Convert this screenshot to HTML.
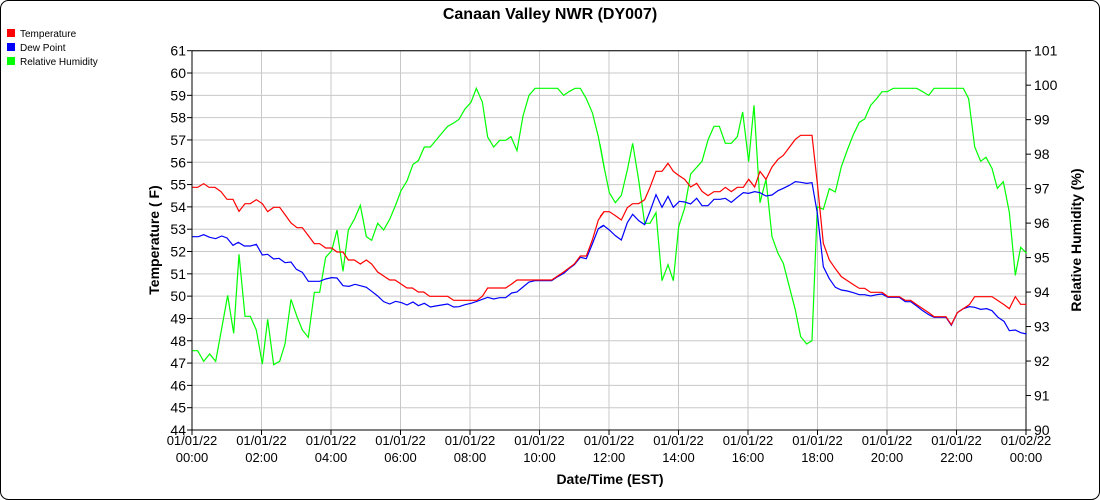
<!DOCTYPE html>
<html><head><meta charset="utf-8"><style>
body{margin:0;background:#fff;}
svg{display:block;font-family:"Liberation Sans",sans-serif;}
</style></head><body>
<svg width="1100" height="500" xmlns="http://www.w3.org/2000/svg">
<rect x="0.5" y="0.5" width="1099" height="499" rx="8" fill="#fff" stroke="#000"/>
<text x="550" y="19" text-anchor="middle" font-size="16" font-weight="bold">Canaan Valley NWR (DY007)</text>
<g font-size="10">
<rect x="7" y="29" width="8" height="8" fill="#f00"/><text x="20" y="37">Temperature</text>
<rect x="7" y="43" width="8" height="8" fill="#00f"/><text x="20" y="51">Dew Point</text>
<rect x="7" y="57" width="8" height="8" fill="#0f0"/><text x="20" y="65">Relative Humidity</text>
</g>
<g id="grid" stroke="#c8c8c8" stroke-width="1"></g>
<g id="lbl" font-size="14"></g>
<script>
var g=document.getElementById('grid'),l=document.getElementById('lbl'),ns='http://www.w3.org/2000/svg';
function el(p,t,a,txt){var e=document.createElementNS(ns,t);for(var k in a)e.setAttribute(k,a[k]);if(txt!=null)e.textContent=txt;p.appendChild(e);return e;}
var x0=192,x1=1026,yt=50.7,yb=430;
for(var v=44;v<=61;v++){var y=yt+(61-v)*(yb-yt)/17;el(g,'line',{x1:x0,x2:x1,y1:y,y2:y});el(g,'line',{x1:x0-5,x2:x0,y1:y,y2:y,stroke:'#000'});el(l,'text',{x:x0-6,y:y+5,'text-anchor':'end'},v);}
for(var r=90;r<=101;r++){var y=yb-(r-90)*(yb-yt)/11;el(g,'line',{x1:x1,x2:x1+5,y1:y,y2:y,stroke:'#000'});el(l,'text',{x:x1+8,y:y+5},r);}
for(var h=0;h<=12;h++){var x=x0+h*(x1-x0)/12;el(g,'line',{x1:x,x2:x,y1:yt,y2:yb});el(g,'line',{x1:x,x2:x,y1:yb,y2:yb+5,stroke:'#000'});
var hh=(h*2)%24;var d=h==12?'01/02/22':'01/01/22';el(l,'text',{x:x,y:445,'text-anchor':'middle',style:'font-size:13px'},d);el(l,'text',{x:x,y:462,'text-anchor':'middle',style:'font-size:13px'},(hh<10?'0':'')+hh+':00');}
</script>
<line x1="192" y1="50.7" x2="1026" y2="50.7" stroke="#000"/>
<line x1="192" y1="50.7" x2="192" y2="430" stroke="#000"/>
<line x1="1026" y1="50.7" x2="1026" y2="430" stroke="#000"/>
<line x1="192" y1="430" x2="1026" y2="430" stroke="#000"/>
<text x="610" y="484" text-anchor="middle" font-size="14" font-weight="bold">Date/Time (EST)</text>
<text transform="translate(159,240) rotate(-90)" text-anchor="middle" font-size="14" font-weight="bold">Temperature ( F)</text>
<text transform="translate(1081,240) rotate(-90)" text-anchor="middle" font-size="14" font-weight="bold">Relative Humidity (%)</text>
<g transform="translate(185,40) scale(0.33333)" fill="none" stroke-width="1.2">
<polyline vector-effect="non-scaling-stroke" stroke="#0f0" points="22,932 38,932 56,964 74,942 92,964 110,866 128,766 146,880 162,643 180,829 196,829 214,870 232,972 248,838 266,974 284,964 300,912 318,778 336,830 352,870 370,892 388,757 404,757 422,652 440,632 456,570 474,694 490,570 508,538 526,496 544,590 560,601 578,550 596,570 614,538 632,495 648,452 666,423 684,373 700,362 718,321 736,321 752,302 770,280 788,259 806,249 822,238 840,207 858,187 874,145 892,186 908,291 926,321 944,301 962,301 978,290 996,332 1014,228 1032,166 1050,145 1068,145 1084,145 1100,145 1118,145 1136,166 1152,155 1170,145 1186,145 1204,176 1222,218 1240,290 1258,385"/>
<polyline vector-effect="non-scaling-stroke" stroke="#00f" points="22,590 40,590 56,584 74,592 92,596 110,588 126,594 144,616 160,607 178,618 196,618 214,613 232,645 248,643 266,657 282,655 300,668 318,666 334,688 352,697 370,724 388,724 404,724 422,717 440,713 456,714 474,737 492,739 510,733 526,737 544,742 560,754 578,768 596,785 614,792 632,784 650,788 666,795 684,786 700,797 718,790 736,801 752,798 770,795 788,792 806,801 822,800 840,794 858,790 876,784 892,778 908,772 926,777 944,773 962,773 980,759 996,756 1014,741 1032,726 1050,722 1068,722 1084,722 1100,722 1118,710 1136,700 1152,686 1168,674 1186,652 1204,656 1222,612 1240,566 1258,556"/>
<polyline vector-effect="non-scaling-stroke" stroke="#f00" points="22,442 38,442 56,431 72,442 90,442 108,455 126,478 144,478 162,514 180,491 196,491 214,479 232,491 248,515 266,502 284,502 300,524 318,549 336,563 352,563 370,587 388,611 404,611 422,624 440,624 456,636 474,636 490,660 508,660 526,672 544,660 560,672 578,696 596,708 614,720 630,720 648,732 666,744 682,744 700,756 716,756 734,769 752,769 770,769 788,769 806,781 824,781 840,781 858,781 876,781 892,769 908,744 926,744 944,744 962,744 980,732 996,720 1014,720 1032,720 1050,720 1068,720 1084,720 1100,720 1118,708 1136,696 1152,684 1168,672 1186,648 1204,648 1222,600 1240,540 1258,514"/>
</g>
<g transform="translate(600,40) scale(0.33333)" fill="none" stroke-width="1.2">
<polyline vector-effect="non-scaling-stroke" stroke="#0f0" points="0,312 12,380 28,458 46,488 64,466 82,390 98,310 116,420 134,550 150,550 168,518 186,722 204,674 220,722 236,560 254,504 272,402 290,382 306,364 324,300 342,259 358,259 376,310 394,310 412,290 428,216 446,365 462,196 480,488 498,418 516,590 534,640 550,670 568,740 586,810 602,890 620,912 636,902 652,500 670,508 688,446 706,456 724,380 742,330 760,284 778,247 794,237 812,196 830,176 846,155 862,155 880,145 898,145 916,145 932,145 950,145 968,155 986,166 1002,145 1020,145 1038,145 1054,145 1072,145 1090,145 1106,176 1124,320 1142,364 1158,352 1176,385 1192,445 1210,425 1228,517 1246,706 1262,622 1280,640"/>
<polyline vector-effect="non-scaling-stroke" stroke="#00f" points="0,562 10,556 28,570 46,587 64,600 82,548 98,523 116,542 134,554 150,514 168,464 186,502 204,469 220,502 238,484 254,486 272,492 290,475 306,497 324,497 342,478 360,478 376,475 394,487 412,472 430,458 446,460 464,455 480,458 498,468 516,465 534,452 550,445 568,436 586,425 602,427 620,430 636,428 652,520 670,680 688,716 706,742 724,750 742,753 760,758 778,764 794,764 812,768 830,764 846,762 864,772 880,772 898,772 916,785 932,785 950,798 968,812 986,824 1002,832 1020,832 1038,832 1054,856 1072,818 1090,806 1108,800 1124,802 1142,808 1160,806 1176,812 1194,832 1212,844 1228,872 1246,870 1262,878 1280,882"/>
<polyline vector-effect="non-scaling-stroke" stroke="#f00" points="0,530 12,515 28,515 46,527 64,540 82,503 98,491 116,491 134,479 150,442 168,394 186,394 204,370 220,394 236,406 254,418 272,441 290,430 306,454 324,467 342,455 360,455 376,442 394,455 412,442 430,442 446,418 464,441 480,394 498,418 516,381 534,358 550,346 568,322 586,298 602,286 620,286 636,286 652,430 670,610 688,660 706,686 724,710 742,722 760,734 778,745 794,745 812,757 830,757 846,757 864,770 880,770 898,770 916,781 932,781 950,794 968,806 986,818 1002,830 1020,830 1038,830 1054,854 1072,818 1090,806 1108,794 1124,770 1142,770 1160,770 1176,770 1194,782 1212,794 1228,806 1246,770 1262,793 1280,793"/>
</g>
</svg>
</body></html>
